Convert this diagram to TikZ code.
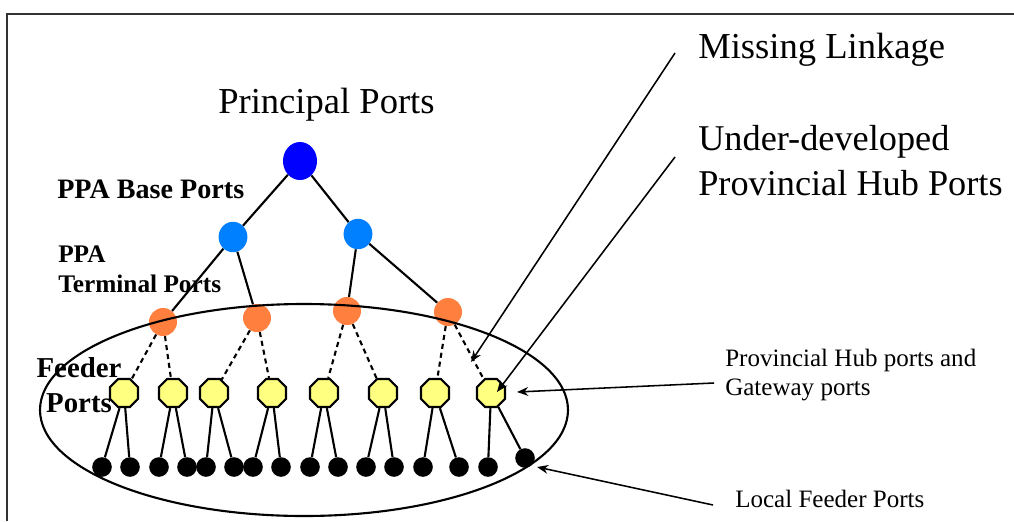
\documentclass[tikz,border=0pt]{standalone}
\usepackage{fontspec}
\setmainfont{Liberation Serif}
\usepackage{xcolor}
\usetikzlibrary{arrows.meta,positioning,shapes.geometric}

\definecolor{portblue}{RGB}{0,0,255}
\definecolor{baseblue}{RGB}{0,128,255}
\definecolor{termorange}{RGB}{255,127,63}
\definecolor{hubyellow}{RGB}{255,255,128}

\begin{document}
\begin{tikzpicture}[x=0.025cm,y=-0.025cm,
      principal_node/.style={
         ellipse,
         fill=portblue,
         inner sep=0pt,
         minimum width=8.5mm,
         minimum height=9.5mm},
      base_node/.style={
         ellipse,
         fill=baseblue,
         inner sep=0pt,
         minimum width=7.2mm,
         minimum height=7.6mm},
      terminal_node/.style={
         circle,
         fill=termorange,
         inner sep=0pt,
         minimum size=7mm},
      hub_node/.style={
         regular polygon,
         regular polygon sides=8,
         draw=black,
         line width=1.6pt,
         fill=hubyellow,
         inner sep=0pt,
         minimum size=7.6mm},
      local_node/.style={
         circle,
         fill=black,
         inner sep=0pt,
         minimum size=4.9mm},
      link_solid/.style={
         line width=1.5pt,
         },
      link_dashed/.style={
         line width=1.5pt,
         dash pattern=on 3.6pt off 2.8pt,
         },
      arrow_black/.style={
         -{Stealth[length=2.8mm,width=2.2mm]},
         line width=1.1pt,
         },
      label_big/.style={
         anchor=base west,
         inner sep=0pt,
         align=left,
         font=\fontsize{26}{32}\selectfont},
      label_bold/.style={
         anchor=base west,
         inner sep=0pt,
         font=\bfseries},
      label_small/.style={
         anchor=base west,
         inner sep=0pt,
         align=left,
         font=\fontsize{17.8}{20.6}\selectfont}
]
      \useasboundingbox (0,0) rectangle (1014,521);
      %frame
      \draw[line width=1.6pt,draw=black!80] (7,521) -- (7,14) -- (1014,14);

      %principal and PPA ports
      \node[principal_node] (pp) at (300,161) {};
      \node[base_node] (bl) at (233,237) {};
      \node[base_node] (br) at (358,234) {};

      \node[terminal_node] (t1) at (163,322) {};
      \node[terminal_node] (t2) at (257,318) {};
      \node[terminal_node] (t3) at (347,311) {};
      \node[terminal_node] (t4) at (448,312) {};

      %provincial hub ports
      \foreach \n/\x in {1/124,2/173,3/214,4/272,5/324,6/383,7/435,8/491}
        \node[hub_node] (h\n) at (\x,393) {};

      %local feeder ports
      \foreach \n/\x in {1/102,2/130,3/159,4/187,5/206,6/234,7/253,8/281,
                         9/310,10/338,11/366,12/394,13/423,14/459,15/488}
        \node[local_node] (f\n) at (\x,467) {};
      \node[local_node] (f16) at (525,458) {};

    \foreach \i/\j in {pp/bl, pp/br, bl/t1, bl/t2, br/t3, br/t4}
    \draw [link_solid] (\i) -- (\j);

    \foreach \i/\j in {% terminal/hub
      t1/h1, t1/h2, t2/h3, t2/h4, t3/h5, t3/h6, t4/h7, t4/h8}
    \draw [link_dashed] (\i) -- (\j);

    \foreach \i/\j/\k in {% hub/feeder/feeder
      h1/f1/f2, h2/f3/f4, h3/f5/f6, h4/f7/f8,
      h5/f9/f10, h6/f11/f12, h7/f13/f14, h8/f15/f16}
    \draw [link_solid] (\j) -- (\i) -- (\k);

      %hub region
      \draw[line width=1.5pt] (304,410) ellipse [x radius=264, y radius=106];

      %labels (base = last line)
      \node[label_big] (lpp) at (218,113) {Principal Ports};
      \node[label_bold,font=\bfseries\fontsize{20}{24}\selectfont] (lbase) at (57,198) {PPA Base Ports};
      \node[label_bold,align=left,font=\bfseries\fontsize{18}{21.3}\selectfont] (lterm) at (58,292) {PPA\\Terminal Ports};
      \node[label_bold,anchor=base,align=center,font=\bfseries\fontsize{20.5}{24.8}\selectfont] (lfeed) at (79,412) {Feeder\\Ports};

      \node[label_big] (lmiss) at (698,58) {Missing Linkage};
      \node[label_big,font=\fontsize{25.8}{32}\selectfont] (lunder) at (698,195) {Under-developed\\Provincial Hub Ports};
      \node[label_small] (lhub) at (725,395) {Provincial Hub ports and\\Gateway ports};
      \node[label_small] (llocal) at (735,507) {Local Feeder Ports};

      %pointers
      \coordinate (ml_tail) at (675,53);
      \coordinate (ml_tip) at (471,362);
      \coordinate (ud_tail) at (675,157);
      \coordinate (ud_tip) at (497,392);
      \coordinate (gw_tail) at (714,383);
      \coordinate (gw_tip) at (517,392);
      \coordinate (lf_tail) at (713,505);
      \coordinate (lf_tip) at (537,467);
      \foreach \i/\j in {ml_tail/ml_tip, ud_tail/ud_tip, gw_tail/gw_tip, lf_tail/lf_tip}
      \draw [arrow_black] (\i) -- (\j);

\end{tikzpicture}
\end{document}
